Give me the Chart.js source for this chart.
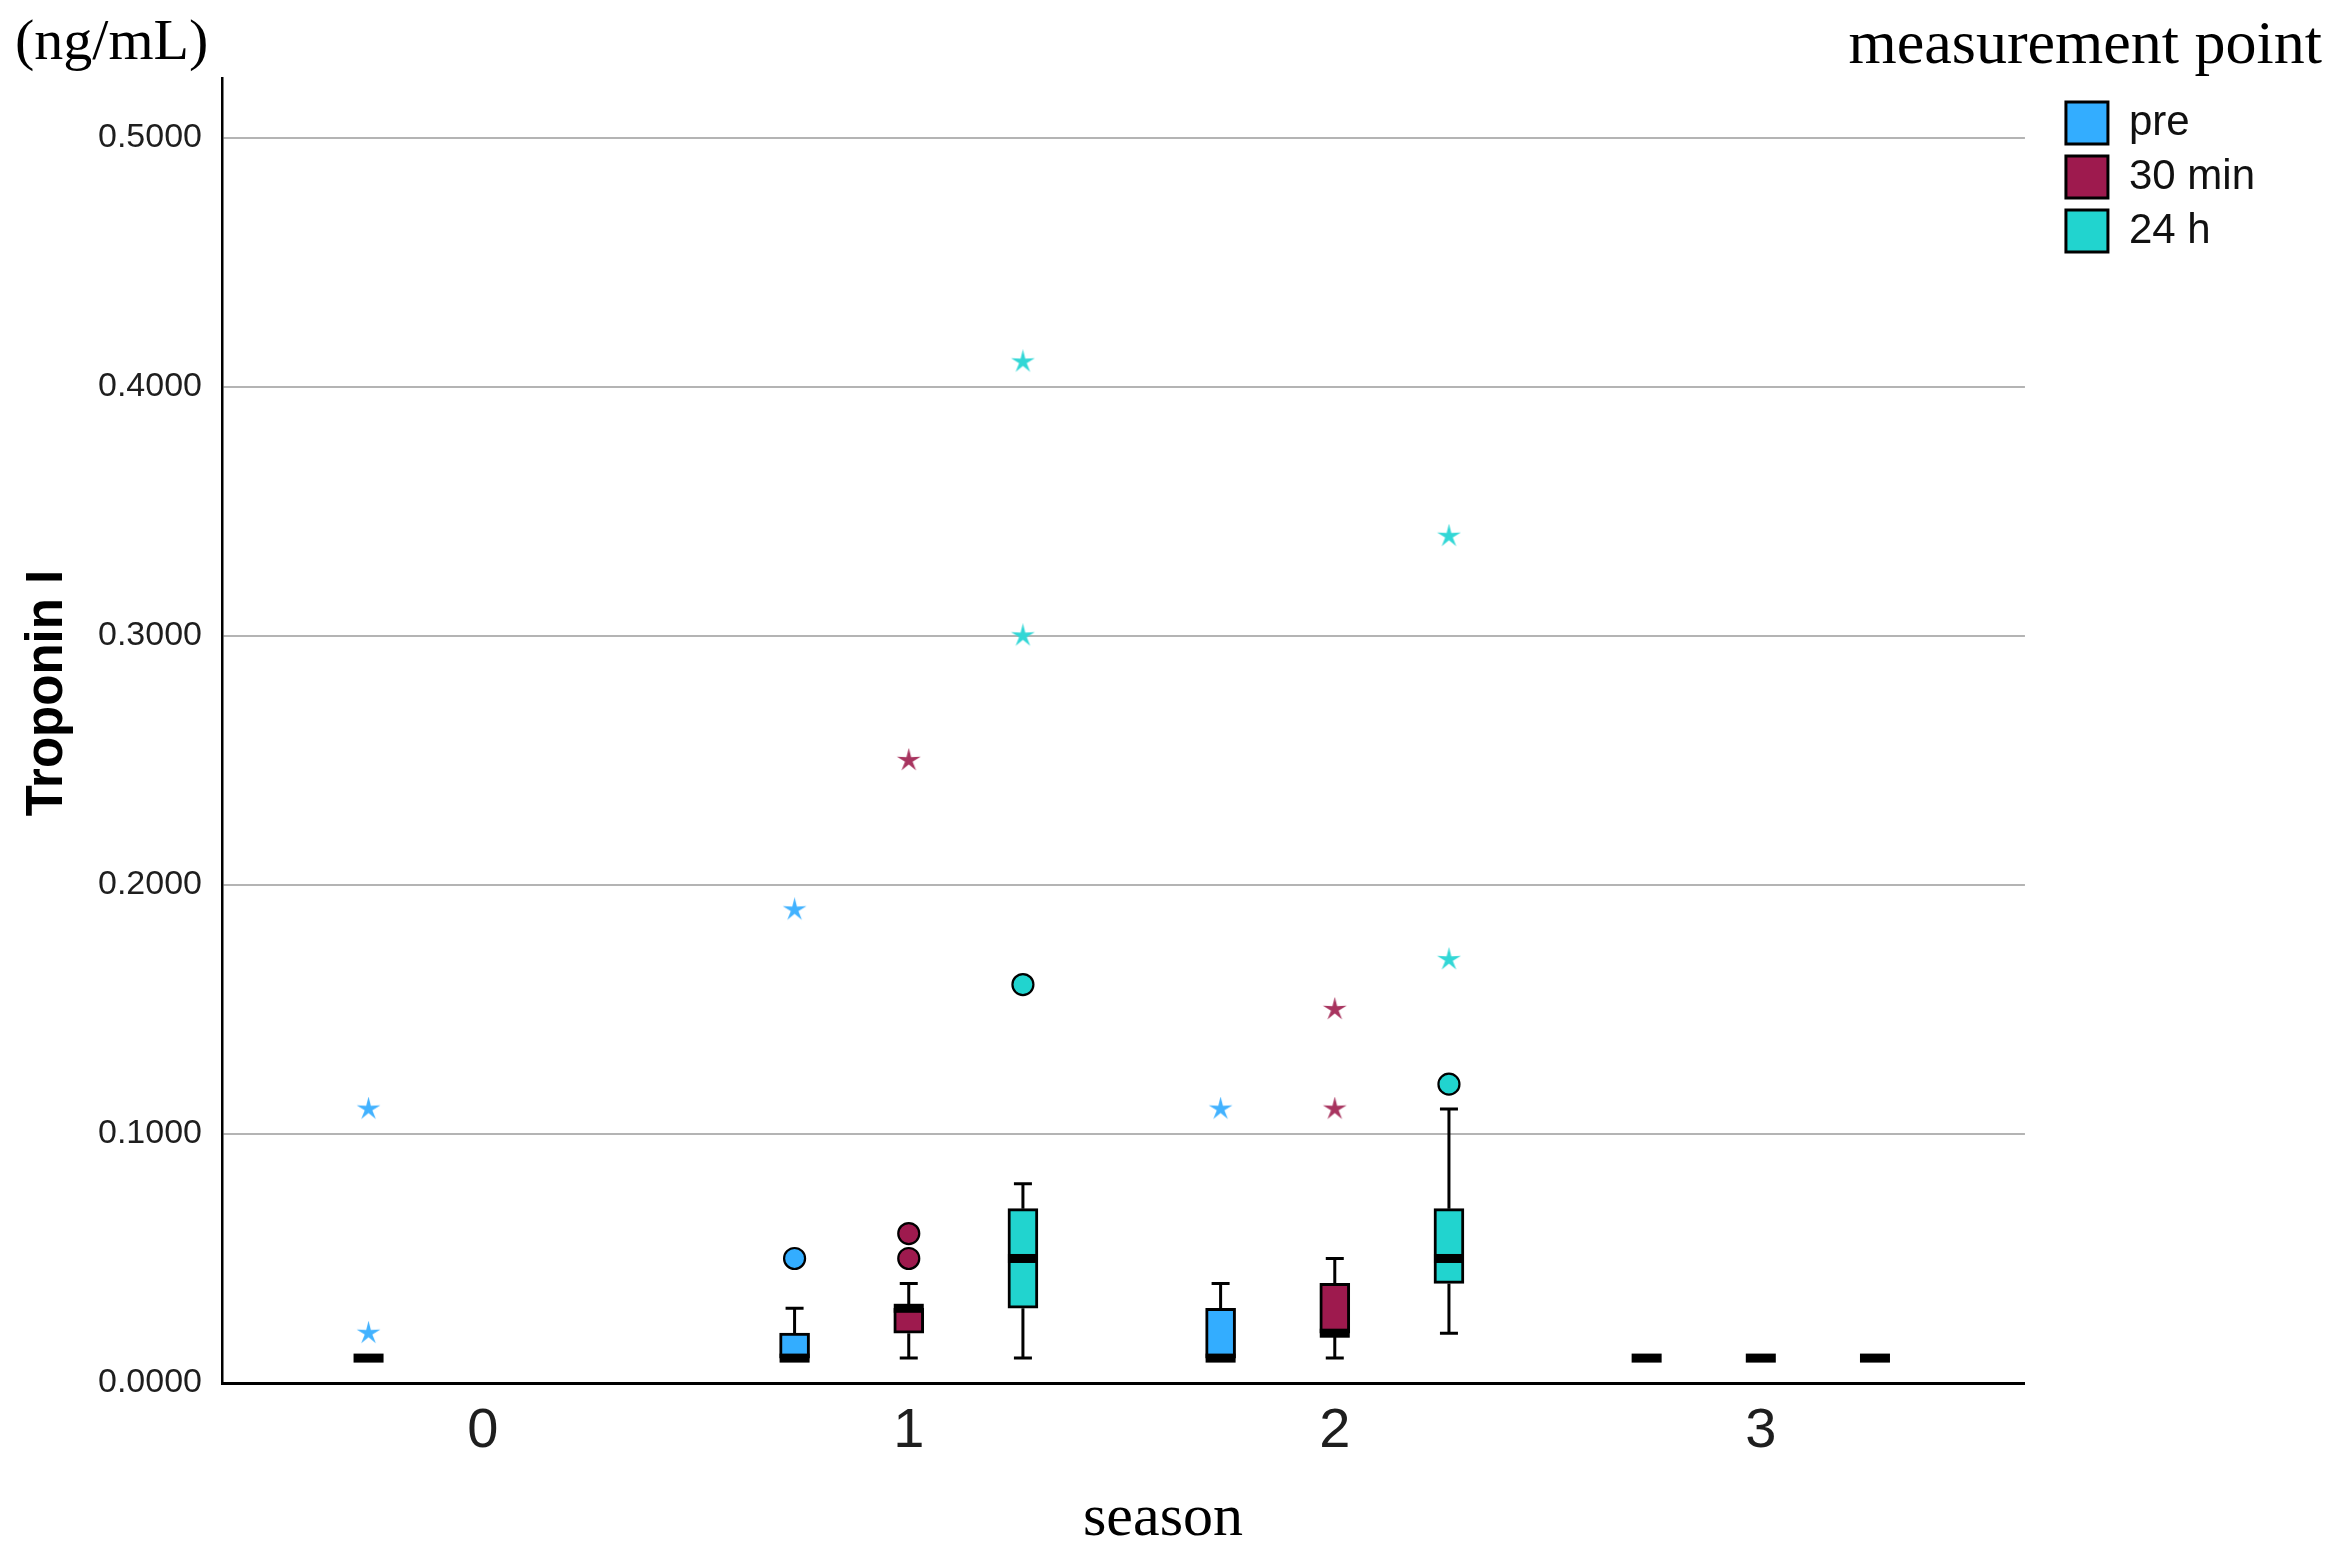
<!DOCTYPE html>
<html><head><meta charset="utf-8">
<script src="https://cdn.jsdelivr.net/npm/chart.js@4.4.1/dist/chart.umd.min.js"></script>
<style>html,body{margin:0;padding:0;background:#fff;overflow:hidden}#wrap{width:2341px;height:1551px}</style>
</head><body><div id="wrap"><canvas id="c" width="2341" height="1551"></canvas></div>
<script>
// ---------- data ----------
const seasons = ['0', '1', '2', '3'];
const seriesNames = ['pre', '30 min', '24 h'];
const yTickValues = [0, 0.1, 0.2, 0.3, 0.4, 0.5];
const yTickLabels = ['0.0000', '0.1000', '0.2000', '0.3000', '0.4000', '0.5000'];
// per season: [whisker low, Q1, median, Q3, whisker high]
const preBoxes   = [[0.01,0.01,0.01,0.01,0.01],[0.01,0.01,0.01,0.02,0.03],[0.01,0.01,0.01,0.03,0.04],[0.01,0.01,0.01,0.01,0.01]];
const min30Boxes = [null,[0.01,0.02,0.03,0.03,0.04],[0.01,0.02,0.02,0.04,0.05],[0.01,0.01,0.01,0.01,0.01]];
const h24Boxes   = [null,[0.01,0.03,0.05,0.07,0.08],[0.02,0.04,0.05,0.07,0.11],[0.01,0.01,0.01,0.01,0.01]];
// outliers: [season index, value]
const preCircles   = [[1,0.05]];
const preStars     = [[0,0.11],[0,0.02],[1,0.19],[2,0.11]];
const min30Circles = [[1,0.05],[1,0.06]];
const min30Stars   = [[1,0.25],[2,0.15],[2,0.11]];
const h24Circles   = [[1,0.16],[2,0.12]];
const h24Stars     = [[1,0.30],[1,0.41],[2,0.17],[2,0.34]];
const xTitle = 'season';
const yTitle = 'Troponin I';
const unitText = '(ng/mL)';
const legendTitle = 'measurement point';

// ---------- style / layout ----------
const fillColors = ['#33adff', '#9e1a4e', '#21d4cf'];
const starColors = ['#42b2ff', '#a8345f', '#32d7d6'];
const groupOffset = [-0.268, 0, 0.268];
const allBoxes = [preBoxes, min30Boxes, h24Boxes];
const allCircles = [preCircles, min30Circles, h24Circles];
const allStars = [preStars, min30Stars, h24Stars];
const SANS = '"Liberation Sans", Arial, sans-serif';
const SERIF = '"Liberation Serif", "Times New Roman", serif';

function starImage(color, size) {
  const c = document.createElement('canvas');
  c.width = c.height = size;
  const g = c.getContext('2d');
  const R = size / 2, r = R * 0.32, cx = size / 2, cy = size / 2;
  g.fillStyle = color;
  g.beginPath();
  for (let i = 0; i < 10; i++) {
    const a = -Math.PI / 2 + i * Math.PI / 5;
    const rad = i % 2 ? r : R;
    g.lineTo(cx + rad * Math.cos(a), cy + rad * Math.sin(a));
  }
  g.closePath();
  g.fill();
  return c;
}

const datasets = [];
allBoxes.forEach((boxes, g) => {
  datasets.push({
    type: 'bar',
    label: seriesNames[g],
    data: boxes.map((b, i) => b ? {x: i + groupOffset[g], y: [b[1], b[3]]} : null).filter(Boolean),
    backgroundColor: fillColors[g],
    borderColor: '#000',
    borderWidth: 3,
    borderSkipped: false,
    barThickness: 30,
    grouped: false,
    order: 2
  });
});
allCircles.forEach((pts, g) => {
  datasets.push({
    type: 'scatter',
    label: seriesNames[g] + ' outliers',
    data: pts.map(p => ({x: p[0] + groupOffset[g], y: p[1]})),
    pointStyle: 'circle',
    radius: 10.5,
    backgroundColor: fillColors[g],
    borderColor: '#000',
    borderWidth: 2.2,
    order: 1
  });
});
allStars.forEach((pts, g) => {
  datasets.push({
    type: 'scatter',
    label: seriesNames[g] + ' extremes',
    data: pts.map(p => ({x: p[0] + groupOffset[g], y: p[1]})),
    pointStyle: starImage(starColors[g], 25),
    radius: 12,
    order: 1
  });
});

const boxParts = {
  id: 'boxParts',
  afterDatasetsDraw(chart) {
    const {ctx} = chart;
    const xs = chart.scales.x, ys = chart.scales.y;
    ctx.save();
    ctx.strokeStyle = '#000';
    ctx.fillStyle = '#000';
    ctx.lineWidth = 3;
    allBoxes.forEach((boxes, g) => {
      boxes.forEach((b, i) => {
        if (!b) return;
        const cx = xs.getPixelForValue(i + groupOffset[g]);
        const [lo, q1, med, q3, hi] = b.map(v => ys.getPixelForValue(v));
        if (hi < q3 - 0.5) {
          ctx.beginPath(); ctx.moveTo(cx, q3); ctx.lineTo(cx, hi);
          ctx.moveTo(cx - 9, hi); ctx.lineTo(cx + 9, hi); ctx.stroke();
        }
        if (lo > q1 + 0.5) {
          ctx.beginPath(); ctx.moveTo(cx, q1); ctx.lineTo(cx, lo);
          ctx.moveTo(cx - 9, lo); ctx.lineTo(cx + 9, lo); ctx.stroke();
        }
        ctx.fillRect(cx - 15, med - 4.5, 30, 9);
      });
    });
    ctx.restore();
  },
  afterDraw(chart) {
    const {ctx} = chart;
    ctx.save();
    ctx.fillStyle = '#000';
    ctx.textBaseline = 'alphabetic';
    // legend heading
    ctx.font = '62px ' + SERIF;
    ctx.textAlign = 'right';
    ctx.fillText(legendTitle, 2322, 63);
    // x axis title
    ctx.font = '60px ' + SERIF;
    ctx.textAlign = 'center';
    ctx.fillText(xTitle, 1163, 1535);
    // y axis title (rotated)
    ctx.font = 'bold 51px ' + SANS;
    ctx.translate(62, 693);
    ctx.rotate(-Math.PI / 2);
    ctx.textAlign = 'center';
    ctx.fillText(yTitle, 0, 0);
    ctx.restore();
  }
};

new Chart(document.getElementById('c'), {
  type: 'scatter',
  data: {datasets},
  plugins: [boxParts],
  options: {
    responsive: false,
    devicePixelRatio: 1,
    animation: false,
    layout: {padding: {left: 15, right: 76, top: 0, bottom: 0}},
    plugins: {
      tooltip: {enabled: false},
      title: {
        display: true, text: unitText, align: 'start', color: '#000',
        font: {family: SERIF, size: 58, weight: 'normal', lineHeight: 1.1},
        padding: {top: 12, bottom: 2.2}
      },
      legend: {
        position: 'right', align: 'start', fullSize: false,
        title: {display: true, text: '', font: {size: 10}, padding: 0},
        labels: {
          boxWidth: 42, boxHeight: 42, padding: 12, color: '#111',
          font: {family: SANS, size: 42},
          filter: item => item.datasetIndex < 3
        }
      }
    },
    scales: {
      x: {
        type: 'linear', min: -0.612, max: 3.620, offset: false,
        afterBuildTicks: s => { s.ticks = seasons.map((_, i) => ({value: i})); },
        afterFit: s => { s.height = 168; },
        grid: {display: false, drawTicks: false},
        border: {color: '#000', width: 3},
        ticks: {
          color: '#1e1e1e', padding: 15, font: {family: SANS, size: 56},
          maxRotation: 0, autoSkip: false,
          callback: (v) => seasons[v] !== undefined ? seasons[v] : ''
        },
        title: {display: false, text: xTitle}
      },
      y: {
        type: 'linear', min: 0, max: 0.524,
        afterBuildTicks: s => { s.ticks = yTickValues.map(v => ({value: v})); },
        afterFit: s => { s.width = 207; },
        grid: {color: '#b4b4b4', lineWidth: 2, drawTicks: false},
        border: {color: '#000', width: 2.5},
        ticks: {
          color: '#1e1e1e', padding: 20, font: {family: SANS, size: 34},
          callback: (v, i) => yTickLabels[i]
        },
        title: {display: false, text: yTitle}
      },
      y2: {
        type: 'linear', position: 'right', display: true,
        grid: {display: false, drawTicks: false},
        border: {display: false},
        ticks: {display: false},
        afterFit: s => { s.width = 29; }
      }
    }
  }
});
</script>
</body></html>
